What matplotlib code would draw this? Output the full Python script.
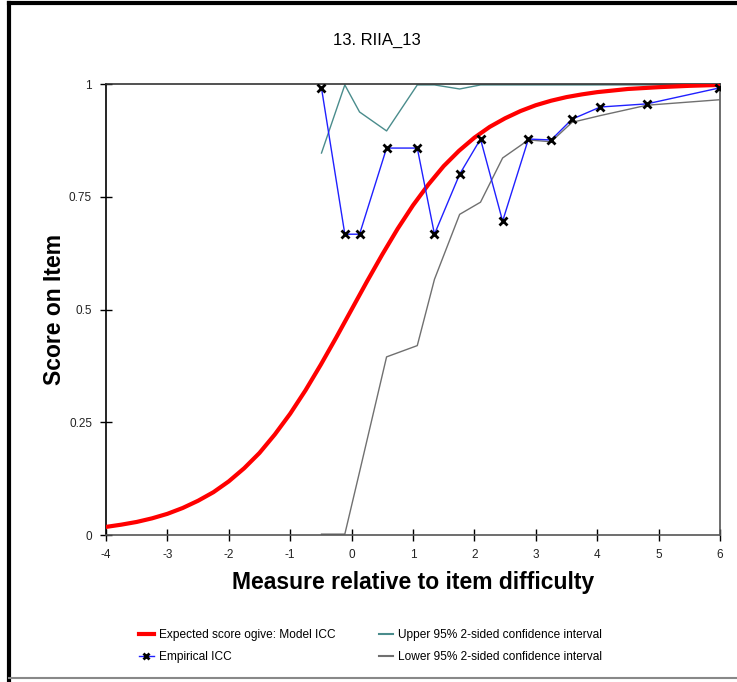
import matplotlib
matplotlib.use('Agg')
import matplotlib.pyplot as plt
from matplotlib.lines import Line2D

plt.rcParams['font.family'] = ['Liberation Sans', 'DejaVu Sans']

# Model ICC (expected score ogive)
model_x = [-4, -3.75, -3.5, -3.25, -3, -2.75, -2.5, -2.25, -2, -1.75, -1.5,
           -1.25, -1, -0.75, -0.5, -0.25, 0, 0.25, 0.5, 0.75, 1, 1.25, 1.5,
           1.75, 2, 2.25, 2.5, 2.75, 3, 3.25, 3.5, 3.75, 4, 4.5, 5, 5.5, 6]
model_y = [0.018, 0.023, 0.029, 0.037, 0.047, 0.060, 0.076, 0.095, 0.119,
           0.148, 0.182, 0.223, 0.269, 0.321, 0.378, 0.438, 0.5, 0.562, 0.622,
           0.679, 0.731, 0.777, 0.818, 0.852, 0.881, 0.905, 0.924, 0.940,
           0.953, 0.963, 0.971, 0.977, 0.982, 0.989, 0.993, 0.996, 0.998]

# Empirical ICC
emp_x = [-0.49, -0.11, 0.13, 0.57, 1.07, 1.35, 1.76, 2.10, 2.46, 2.88, 3.25,
         3.59, 4.05, 4.81, 5.98]
emp_y = [0.991, 0.667, 0.667, 0.858, 0.858, 0.667, 0.80, 0.878, 0.696, 0.878,
         0.876, 0.922, 0.949, 0.956, 0.991]

# Confidence intervals
upper_y = [0.847, 0.998, 0.938, 0.896, 0.998, 0.998, 0.989, 0.998, 0.998,
           0.998, 0.998, 0.998, 0.998, 0.998, 0.998]
lower_y = [0.002, 0.002, 0.14, 0.395, 0.42, 0.567, 0.711, 0.738, 0.836,
           0.876, 0.872, 0.915, 0.93, 0.953, 0.965]

x_ticks = [-4, -3, -2, -1, 0, 1, 2, 3, 4, 5, 6]
y_ticks = [0, 0.25, 0.5, 0.75, 1]
y_ticklabels = ['0', '0.25', '0.5', '0.75', '1']

fig = plt.figure(figsize=(7.37, 6.82), dpi=100)
ax = fig.add_axes([0.1438, 0.2155, 0.8331, 0.6613])

ax.plot(model_x, model_y, color='#ff0000', lw=3, zorder=3)
ax.plot(emp_x, upper_y, color='#4a8c8c', lw=1, zorder=2)
ax.plot(emp_x, lower_y, color='#707070', lw=1, zorder=2)
ax.plot(emp_x, emp_y, color='#2020ff', lw=1, marker='x', mec='black',
        mew=2, ms=6, zorder=4)

ax.set_xlim(-4, 6)
ax.set_ylim(0, 1)
ax.set_xticks(x_ticks)
ax.set_xticklabels([str(v) for v in x_ticks])
ax.set_yticks(y_ticks)
ax.set_yticklabels(y_ticklabels)
ax.tick_params(direction='inout', length=8, width=1, labelsize=8.5,
               labelcolor='#222222', pad=6)

ax.spines['left'].set_color('black')
ax.spines['top'].set_color('#333333')
ax.spines['right'].set_color('#555555')
ax.spines['bottom'].set_color('#555555')
for s in ax.spines.values():
    s.set_linewidth(1.2)

fig.text(0.512, 0.941, '13. RIIA_13', ha='center', va='center', fontsize=12)
ax.set_xlabel('Measure relative to item difficulty', fontsize=16.5,
              fontweight='bold', labelpad=7)
ax.set_ylabel('Score on Item', fontsize=16.5, fontweight='bold', labelpad=2)

handles = [
    Line2D([], [], color='#ff0000', lw=3),
    Line2D([], [], color='#2020ff', lw=1, marker='x', mec='black', mew=2, ms=5),
    Line2D([], [], color='#4a8c8c', lw=1.5),
    Line2D([], [], color='#707070', lw=1.5),
]
labels = ['Expected score ogive: Model ICC', 'Empirical ICC',
          'Upper 95% 2-sided confidence interval',
          'Lower 95% 2-sided confidence interval']
fig.legend(handles, labels, ncol=2, loc='center', bbox_to_anchor=(0.503, 0.053),
           frameon=False, fontsize=8.6, handlelength=1.2, handletextpad=0.45,
           columnspacing=3.6, labelspacing=0.85)

# figure border
fig.add_artist(Line2D([0.0125, 0.0125], [0.0, 0.996], color='black', lw=3,
                      transform=fig.transFigure))
fig.add_artist(Line2D([0.0125, 1.0], [0.996, 0.996], color='black', lw=3,
                      transform=fig.transFigure))
fig.add_artist(Line2D([0.0125, 1.0], [0.006, 0.006], color='#888888', lw=1.5,
                      transform=fig.transFigure))

fig.savefig('out.png', dpi=100)
